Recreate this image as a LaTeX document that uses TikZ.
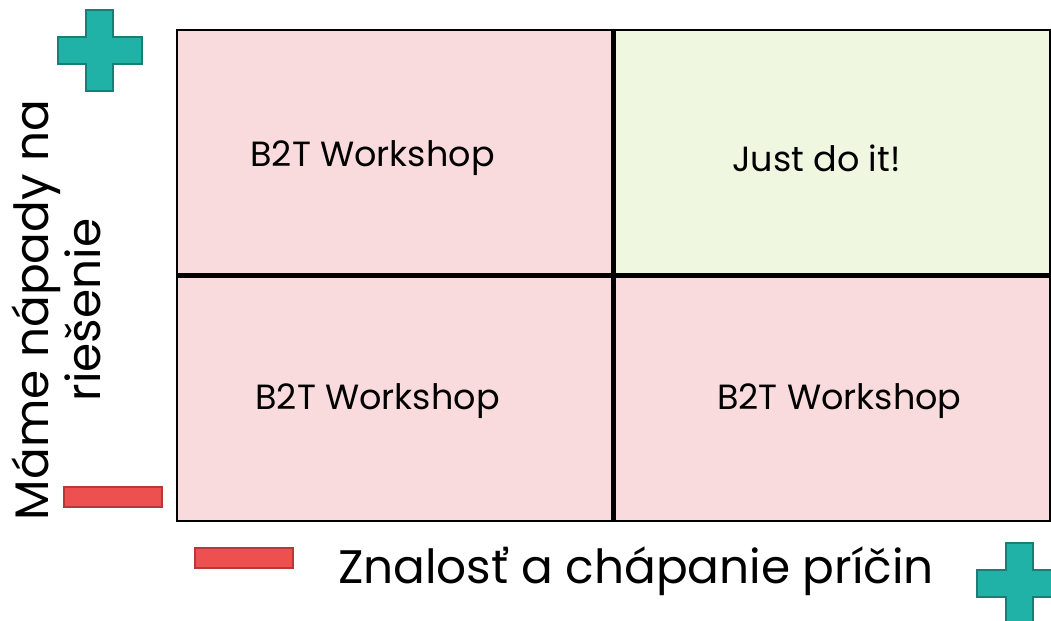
\documentclass[tikz,border=0pt]{standalone}
\usepackage{fontspec}
\setmainfont{Poppins}
\usetikzlibrary{positioning}
\definecolor{cellpink}{RGB}{250,219,221}
\definecolor{cellgreen}{RGB}{240,247,225}
\definecolor{plusteal}{RGB}{32,178,166}
\definecolor{plusedge}{RGB}{22,128,118}
\definecolor{minusred}{RGB}{238,80,80}
\definecolor{minusedge}{RGB}{184,56,56}

\begin{document}
\begin{tikzpicture}[x=0.5pt,y=-0.5pt,
cell/.style={draw,line width=1.2pt,rectangle,outer sep=0pt,inner sep=0pt,
    minimum width=217.75pt,minimum height=122.25pt,fill=cellpink},
celltext/.style={font=\fontsize{17.5}{21}\selectfont},
axistext/.style={font=\fontsize{23.5}{26}\selectfont,align=center},
plusbox/.style={fill=plusteal,draw=plusedge,line width=1pt},
minusbar/.style={fill=minusred,draw=minusedge,line width=1pt},
pics/plussign/.style={code={
    \draw[plusbox] (-13.5,-40.5) -- (13.5,-40.5) -- (13.5,-13.5) -- (42,-13.5)
        -- (42,13.5) -- (13.5,13.5) -- (13.5,40.5) -- (-13.5,40.5)
        -- (-13.5,13.5) -- (-42,13.5) -- (-42,-13.5) -- (-13.5,-13.5) -- cycle;}}]
\useasboundingbox (0,0) rectangle (1051,621);
\clip (0,0) rectangle (1051,621);
\matrix (quad) [row sep=0pt,column sep=0pt] at (613.5,275.5) {
\node (idea) [cell,
    label={[celltext,xshift=-11pt,yshift=-3pt]center:B2T Workshop}] {};
&
\node (doit) [cell,fill=cellgreen,
    label={[celltext,xshift=-8pt,yshift=-3pt]center:Just do it!}] {};
\\
\node (none) [cell,
    label={[celltext,xshift=-8.5pt,yshift=-1pt]center:B2T Workshop}] {};
&
\node (cause) [cell,
    label={[celltext,xshift=3.5pt,yshift=-1pt]center:B2T Workshop}] {};
\\
};
\node (ideas) [axistext,rotate=90] at (56,310) {Máme nápady na\\riešenie};
\node (causes) [axistext] at (636,571) {Znalosť a chápanie príčin};
\pic at (99.5,50.5) {plussign};
\pic at (1019,583.5) {plussign};
\draw[minusbar] (64,487) rectangle (162,507);
\draw[minusbar] (195,548) rectangle (293,568);
\end{tikzpicture}
\end{document}
